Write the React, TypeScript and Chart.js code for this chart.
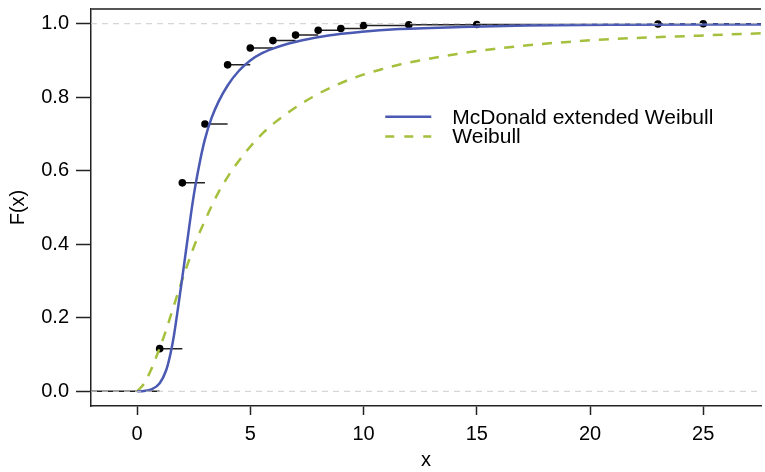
import React, { useEffect, useRef } from "react";
import { Chart, registerables } from "chart.js";

Chart.register(...registerables);

// ECDF of the sample (jump points and cumulative proportions)
const ecdfX = [1, 2, 3, 4, 5, 6, 7, 8, 9, 10, 12, 15, 23, 25];
const ecdfY = [0.116, 0.567, 0.727, 0.888, 0.934, 0.954, 0.969, 0.982, 0.987, 0.995, 0.997, 0.998, 0.999, 1.0];

// McDonald extended Weibull fitted CDF
const mcX = [0, 0.3, 0.63, 1.0, 1.29, 1.48, 1.63, 1.8, 2.0, 2.2, 2.4, 2.55, 2.8, 3.0, 3.3, 3.6, 4.0, 4.5, 5.0, 5.5, 6.0, 6.7, 7.3, 8.45, 9.92, 11.4, 14.3, 17.2, 21, 27.55];
const mcY = [0, 0.001, 0.005, 0.022, 0.058, 0.103, 0.152, 0.222, 0.31, 0.4, 0.49, 0.55, 0.632, 0.686, 0.745, 0.788, 0.832, 0.872, 0.9, 0.919, 0.932, 0.946, 0.955, 0.968, 0.978, 0.985, 0.991, 0.995, 0.997, 0.998];

// Weibull fitted CDF
const wX = [0, 0.3, 0.63, 0.92, 1.22, 1.51, 1.87, 2.2, 2.68, 3.04, 3.34, 3.63, 3.92, 4.21, 4.51, 4.8, 5.24, 5.6, 6.12, 6.85, 7.73, 8.75, 9.92, 10.8, 11.6, 12.48, 13.36, 14.17, 15.04, 16.0, 16.87, 17.68, 20.9, 24.56, 27.55];
const wY = [0, 0.02, 0.06, 0.105, 0.155, 0.21, 0.28, 0.34, 0.42, 0.47, 0.51, 0.545, 0.575, 0.603, 0.628, 0.651, 0.682, 0.705, 0.733, 0.766, 0.8, 0.832, 0.86, 0.876, 0.889, 0.9, 0.91, 0.918, 0.926, 0.933, 0.939, 0.944, 0.958, 0.967, 0.974];

const xTicks = [0, 5, 10, 15, 20, 25];
const yTicks = [0, 0.2, 0.4, 0.6, 0.8, 1.0];
const refLevels = [0, 1];

const X_MIN = -2.032;
const X_MAX = 27.55;
const Y_MIN = -0.04;
const Y_MAX = 1.04;

const seriesNames = ["McDonald extended Weibull", "Weibull"];
const BLUE = "#4a59b2";
const GREEN = "#a4c03c";
const FONT = "'Liberation Sans', Arial, Helvetica, sans-serif";

export default function App() {
  const ref = useRef<HTMLCanvasElement | null>(null);

  useEffect(() => {
    const canvas = ref.current;
    if (!canvas) return;

    // horizontal ECDF segments, separated by gaps
    const seg: { x: number; y: number | null }[] = [];
    seg.push({ x: X_MIN, y: 0 }, { x: ecdfX[0], y: 0 }, { x: ecdfX[0], y: null });
    for (let i = 0; i < ecdfX.length; i++) {
      const xe = i < ecdfX.length - 1 ? ecdfX[i + 1] : X_MAX;
      seg.push({ x: ecdfX[i], y: ecdfY[i] }, { x: xe, y: ecdfY[i] }, { x: xe, y: null });
    }

    const refData = refLevels.map((lv) => [
      { x: X_MIN, y: lv },
      { x: X_MAX, y: lv },
    ]);

    const legendPlugin = {
      id: "customFrameLegend",
      afterDraw(chart: any) {
        const { ctx, chartArea, scales } = chart;
        ctx.save();
        // top box line
        ctx.strokeStyle = "#555";
        ctx.lineWidth = 2;
        ctx.beginPath();
        ctx.moveTo(chartArea.left, chartArea.top);
        ctx.lineTo(chartArea.right, chartArea.top);
        ctx.stroke();

        // legend anchored in data coordinates
        const lx = scales.x.getPixelForValue(10.96);
        const ly = scales.y.getPixelForValue(0.747);
        const styles = [
          { color: BLUE, dash: [] as number[] },
          { color: GREEN, dash: [9, 10] },
        ];
        ctx.font = `21px ${FONT}`;
        ctx.textBaseline = "alphabetic";
        ctx.textAlign = "left";
        seriesNames.forEach((name, i) => {
          const y = ly + i * 19.8;
          ctx.strokeStyle = styles[i].color;
          ctx.lineWidth = 2.5;
          ctx.setLineDash(styles[i].dash);
          ctx.beginPath();
          ctx.moveTo(lx, y);
          ctx.lineTo(lx + 46, y);
          ctx.stroke();
          ctx.setLineDash([]);
          ctx.fillStyle = "#000";
          ctx.fillText(name, lx + 67, y + 6.8);
        });
        ctx.restore();
      },
    };

    const chart = new Chart(canvas, {
      type: "scatter",
      data: {
        datasets: [
          ...refData.map((d, i) => ({
            label: "ref" + i,
            data: d,
            showLine: true,
            borderColor: "#cccccc",
            borderWidth: 1,
            borderDash: [6, 5],
            pointRadius: 0,
            order: 1,
          })),
          {
            label: seriesNames[0],
            data: mcX.map((x, i) => ({ x, y: mcY[i] })),
            showLine: true,
            borderColor: BLUE,
            borderWidth: 2.5,
            pointRadius: 0,
            cubicInterpolationMode: "monotone" as const,
            order: 2,
          },
          {
            label: seriesNames[1],
            data: wX.map((x, i) => ({ x, y: wY[i] })),
            showLine: true,
            borderColor: GREEN,
            borderWidth: 2.5,
            borderDash: [10, 9],
            pointRadius: 0,
            cubicInterpolationMode: "monotone" as const,
            order: 3,
          },
          {
            label: "ecdf points",
            data: ecdfX.map((x, i) => ({ x, y: ecdfY[i] })),
            showLine: false,
            pointRadius: 3.8,
            pointBackgroundColor: "#000",
            pointBorderColor: "#000",
            pointBorderWidth: 0,
            order: 4,
          },
          {
            label: "ecdf steps",
            data: seg,
            showLine: true,
            spanGaps: false,
            borderColor: "#222",
            borderWidth: 1.5,
            pointRadius: 0,
            order: 5,
          },
        ],
      },
      options: {
        responsive: false,
        animation: false,
        devicePixelRatio: 1,
        layout: { padding: { top: 9, left: 0, right: 0, bottom: 0 } },
        plugins: {
          legend: { display: false },
          tooltip: { enabled: false },
        },
        scales: {
          x: {
            type: "linear",
            min: X_MIN,
            max: X_MAX,
            afterBuildTicks: (s: any) => {
              s.ticks = xTicks.map((v) => ({ value: v }));
            },
            afterFit: (s: any) => {
              s.height = 66;
              s.paddingLeft = 0;
              s.paddingRight = 0;
            },
            grid: {
              drawOnChartArea: false,
              drawTicks: true,
              tickLength: 9,
              tickColor: "#222",
              tickWidth: 1.5,
            },
            border: { display: true, color: "#222", width: 1.5 },
            ticks: {
              autoSkip: false,
              maxRotation: 0,
              padding: 7,
              color: "#000",
              font: { family: FONT, size: 20 },
              callback: (v: any) => String(v),
            },
            title: {
              display: true,
              text: "x",
              color: "#000",
              font: { family: FONT, size: 20 },
              padding: { top: 0, bottom: 0 },
            },
          },
          y: {
            type: "linear",
            min: Y_MIN,
            max: Y_MAX,
            afterBuildTicks: (s: any) => {
              s.ticks = yTicks.map((v) => ({ value: v }));
            },
            afterFit: (s: any) => {
              s.width = 91;
              s.paddingTop = 0;
              s.paddingBottom = 0;
            },
            grid: {
              drawOnChartArea: false,
              drawTicks: true,
              tickLength: 15,
              tickColor: "#222",
              tickWidth: 1.5,
            },
            border: { display: true, color: "#222", width: 1.5 },
            ticks: {
              autoSkip: false,
              padding: 7,
              color: "#000",
              font: { family: FONT, size: 20 },
              callback: (v: any) => Number(v).toFixed(1),
            },
            title: {
              display: true,
              text: "F(x)",
              color: "#000",
              font: { family: FONT, size: 20 },
              padding: { top: 6, bottom: 0 },
            },
          },
        },
      },
      plugins: [legendPlugin],
    });

    return () => chart.destroy();
  }, []);

  return (
    <div style={{ position: "fixed", left: 0, top: 0, width: 765, height: 472, background: "#fff" }}>
      <canvas ref={ref} width={765} height={472} style={{ display: "block" }} />
    </div>
  );
}
